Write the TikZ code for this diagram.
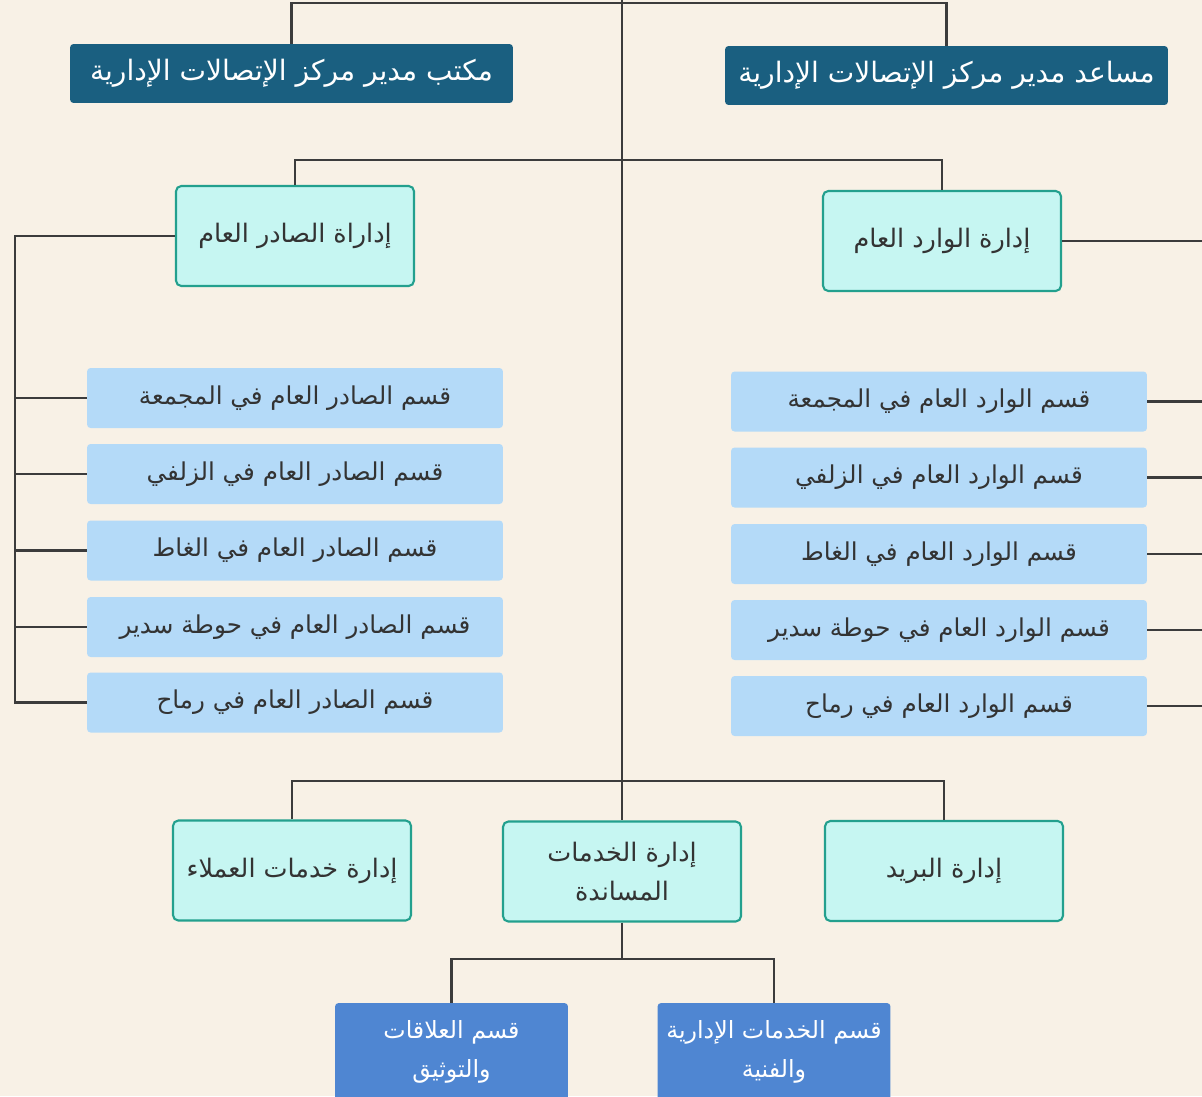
\documentclass[tikz,border=0pt]{standalone}
\usepackage{fontspec}
\newfontfamily\arabicfont[Script=Arabic]{DejaVu Sans}
\TeXXeTstate=1
\usetikzlibrary{positioning}

\definecolor{paper}{HTML}{F8F1E6}
\definecolor{headblue}{HTML}{1A5F80}
\definecolor{deptfill}{HTML}{C6F6F2}
\definecolor{deptline}{HTML}{23A08E}
\definecolor{secfill}{HTML}{B4DAF8}
\definecolor{unitblue}{HTML}{4F86D2}
\definecolor{linkgray}{HTML}{3C3C3C}
\definecolor{textgray}{HTML}{333333}

\newcommand{\ar}[1]{\arabicfont\beginR #1\endR}

\begin{document}
\begin{tikzpicture}[x=0.02cm,y=-0.02cm]
\tikzset{
  head/.style   ={fill=headblue, rounded corners=2pt, text=white, minimum width=8.86cm,
                  minimum height=1.18cm, inner xsep=2pt, font=\fontsize{16}{19}\selectfont},
  dept/.style   ={fill=deptfill, draw=deptline, line width=1.2pt, rounded corners=3pt,
                  text=textgray, minimum width=4.76cm, minimum height=2cm, align=center,
                  font=\fontsize{14.5}{22}\selectfont},
  section/.style={fill=secfill, rounded corners=2pt, text=textgray, minimum width=8.32cm,
                  minimum height=1.2cm, font=\fontsize{14}{17}\selectfont},
  unit/.style   ={fill=unitblue, rounded corners=2pt, text=white, minimum width=4.66cm,
                  minimum height=1.96cm, inner xsep=2pt, align=center,
                  font=\fontsize{13.5}{22}\selectfont},
  link/.style   ={draw=linkgray, line width=1.2pt}
}

% background paper
\fill[paper] (0,0) rectangle (1202,1096);
\useasboundingbox (0,0) rectangle (1202,1096);

% top level
\node[head] (office) at (291.5,73.5) {\ar{مكتب مدير مركز الإتصالات الإدارية}};
\node[head] (assist) at (946.5,75.5) {\ar{مساعد مدير مركز الإتصالات الإدارية}};

% second level
\node[dept] (outgoing) at (295,236) {\ar{إداراة الصادر العام}};
\node[dept] (incoming) at (942,241) {\ar{إدارة الوارد العام}};

% outgoing sections
\node[section] (out1) at (295,398) {\ar{قسم الصادر العام في المجمعة}};
\node[section] (out2) at (295,474) {\ar{قسم الصادر العام في الزلفي}};
\node[section] (out3) at (295,550.5) {\ar{قسم الصادر العام في الغاط}};
\node[section] (out4) at (295,627) {\ar{قسم الصادر العام في حوطة سدير}};
\node[section] (out5) at (295,702.5) {\ar{قسم الصادر العام في رماح}};

% incoming sections
\node[section] (in1) at (939,401.5) {\ar{قسم الوارد العام في المجمعة}};
\node[section] (in2) at (939,477.5) {\ar{قسم الوارد العام في الزلفي}};
\node[section] (in3) at (939,554) {\ar{قسم الوارد العام في الغاط}};
\node[section] (in4) at (939,630) {\ar{قسم الوارد العام في حوطة سدير}};
\node[section] (in5) at (939,706) {\ar{قسم الوارد العام في رماح}};

% bottom departments
\node[dept] (customers) at (292,870.5) {\ar{إدارة خدمات العملاء}};
\node[dept] (support) at (622,871.5) {\ar{إدارة الخدمات}\\\ar{المساندة}};
\node[dept] (mail) at (944,871) {\ar{إدارة البريد}};

% support units
\node[unit] (relations) at (451.5,1052) {\ar{قسم العلاقات}\\\ar{والتوثيق}};
\node[unit] (adminsvc) at (774,1052) {\ar{قسم الخدمات الإدارية}\\\ar{والفنية}};

% trunk and branch points
\coordinate (top) at (622,-10);
\coordinate (bar1) at (622,3);
\coordinate (bar2) at (622,160);
\coordinate (bar3) at (622,781);
\coordinate (leftrail) at (15,236);
\coordinate (rightrail) at (1215,241);
\coordinate (subbar) at (622,959);

\draw[link] (top) -- (support.north);
\draw[link] (office.north) |- (bar1) -| (assist.north);
\draw[link] (outgoing.north) |- (bar2) -| (incoming.north);
\draw[link] (customers.north) |- (bar3) -| (mail.north);
\draw[link] (support.south) -- (subbar);
\draw[link] (relations.north) |- (subbar) -| (adminsvc.north);

% outgoing rail
\draw[link] (outgoing.west) -- (leftrail) |- (out5.west);
\foreach \s in {out1,out2,out3,out4}
  \draw[link] (\s.west) -- (leftrail |- \s.west);

% incoming rail (runs past the right edge)
\draw[link] (incoming.east) -- (rightrail);
\foreach \s in {in1,in2,in3,in4,in5}
  \draw[link] (\s.east) -- (rightrail |- \s.east);
\end{tikzpicture}
\end{document}
